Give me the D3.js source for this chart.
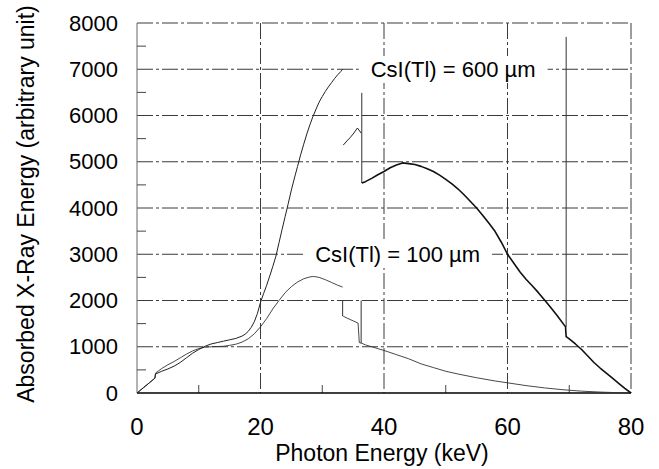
<!DOCTYPE html>
<html>
<head>
<meta charset="utf-8">
<script src="https://cdn.jsdelivr.net/npm/d3@7"></script>
<style>
  body { margin: 0; background: #fff; }
  svg { font-family: "Liberation Sans", Arial, sans-serif; }
</style>
</head>
<body>
<div id="chart"></div>
<script>
// data: [photon energy keV, absorbed energy]
var cs600Low = [
  [0, 0], [1, 110], [2, 220], [2.9, 320], [3, 410], [4, 470], [5, 520], [6, 580],
  [7, 660], [8, 760], [9, 860], [10, 940], [11, 1010], [12, 1060], [13, 1090],
  [14, 1120], [15, 1150], [16, 1180], [17, 1230], [17.5, 1270], [18, 1330],
  [18.5, 1420], [19, 1540], [19.5, 1720], [20, 1960], [20.5, 2150], [21, 2330],
  [21.5, 2530], [22, 2740], [22.5, 2960], [23, 3250], [23.5, 3540], [24, 3820],
  [24.5, 4100], [25, 4390], [25.5, 4650], [26, 4900], [26.5, 5150], [27, 5380],
  [27.5, 5600], [28, 5800], [28.5, 5980], [29, 6140], [29.5, 6290], [30, 6410],
  [30.5, 6520], [31, 6620], [31.5, 6710], [32, 6800], [32.5, 6880], [33, 6950],
  [33.3, 7000]
];
var cs600Mid = [
  [33.4, 5360], [34, 5450], [34.5, 5520], [35, 5600], [35.7, 5730], [36.3, 5620]
];
var cs600High = [
  [36.4, 4540], [37, 4570], [38, 4640], [39, 4720], [40, 4790],
  [41, 4870], [42, 4930], [43, 4975], [44, 4960], [45, 4940], [46, 4900],
  [47, 4850], [48, 4790], [49, 4710], [50, 4620], [51, 4520], [52, 4410],
  [53, 4280], [54, 4140], [55, 4000], [56, 3840], [57, 3670], [58, 3490],
  [59, 3260], [60, 3000], [61, 2810], [62, 2620], [63, 2460], [64, 2320],
  [65, 2170], [66, 2010], [67, 1850], [68, 1680], [69.4, 1430],
  [69.5, 1220], [70, 1170], [71, 1060], [72, 940], [73, 800], [74, 660],
  [75, 540], [76, 430], [77, 320], [78, 210], [79, 100], [80, 0]
];
var cs100Low = [
  [0, 0], [1, 110], [2, 220], [2.9, 320], [3, 430], [4, 530], [5, 610], [6, 680],
  [7, 760], [8, 840], [9, 910], [10, 960], [11, 990], [12, 1000], [13, 1005],
  [14, 1010], [15, 1030], [16, 1055], [17, 1100], [18, 1170], [19, 1280],
  [20, 1430], [21, 1610], [22, 1820], [23, 2000], [24, 2170], [25, 2300],
  [26, 2400], [27, 2470], [28, 2510], [28.6, 2520], [29.5, 2500], [30.5, 2450],
  [31.5, 2390], [32.5, 2330], [33.3, 2290]
];
var cs100High = [
  [33.4, 1660], [34, 1620], [35, 1560], [35.8, 1510], [36, 1090],
  [36.4, 1075], [37, 1040], [38, 1000], [39, 960],
  [40, 920], [42, 830], [44, 740], [46, 630], [48, 550], [50, 470], [52, 410],
  [55, 330], [58, 260], [60, 220], [63, 160], [66, 110], [69, 70], [72, 40],
  [75, 20], [78, 6], [80, 0]
];
// thin vertical edge marks: [keV, from, to]
var edgeLines = [
  [33.3, 1660, 2000], [36.3, 1075, 2000],
  [36.4, 4540, 6490], [69.5, 1430, 7700]
];

var xTicks = [0, 20, 40, 60, 80];
var xMinorTicks = [10, 30, 50, 70];
var yTicks = [0, 1000, 2000, 3000, 4000, 5000, 6000, 7000, 8000];
var yMinorTicks = [500, 1500, 2500, 3500, 4500, 5500, 6500, 7500];

var labels = [
  { text: "CsI(Tl) = 600 µm", x: 51.2, y: 7000 },
  { text: "CsI(Tl) = 100 µm", x: 42.2, y: 3000 }
];

var width = 659;
var height = 469;
var plotLeft = 137, plotRight = 631, plotTop = 23, plotBottom = 393;

var svg = d3.select("#chart")
  .append("svg")
  .attr("width", width)
  .attr("height", height);

var xScale = d3.scaleLinear().domain([0, 80]).range([plotLeft, plotRight]);
var yScale = d3.scaleLinear().domain([0, 8000]).range([plotBottom, plotTop]);

// grid (dash-dot, scanned look)
var grid = svg.append("g").attr("class", "grid")
  .attr("stroke", "#3a3a3a")
  .attr("stroke-width", 1)
  .attr("stroke-dasharray", "16,3,3,3");

grid.selectAll("line.h")
  .data(yTicks.filter(function(d) { return d > 0; }))
  .enter()
  .append("line")
  .attr("class", "h")
  .attr("x1", plotLeft)
  .attr("x2", plotRight)
  .attr("y1", function(d) { return yScale(d); })
  .attr("y2", function(d) { return yScale(d); });

grid.selectAll("line.v")
  .data(xTicks.filter(function(d) { return d > 0; }))
  .enter()
  .append("line")
  .attr("class", "v")
  .attr("y1", plotTop)
  .attr("y2", plotBottom)
  .attr("x1", function(d) { return xScale(d); })
  .attr("x2", function(d) { return xScale(d); });

// left border
svg.append("line")
  .attr("x1", plotLeft).attr("x2", plotLeft)
  .attr("y1", plotTop).attr("y2", plotBottom)
  .attr("stroke", "#666")
  .attr("stroke-width", 1);

// minor ticks
svg.selectAll("line.ymin")
  .data(yMinorTicks)
  .enter()
  .append("line")
  .attr("class", "ymin")
  .attr("x1", plotLeft)
  .attr("x2", plotLeft + 9)
  .attr("y1", function(d) { return yScale(d); })
  .attr("y2", function(d) { return yScale(d); })
  .attr("stroke", "#444");

svg.selectAll("line.xmin")
  .data(xMinorTicks)
  .enter()
  .append("line")
  .attr("class", "xmin")
  .attr("y1", plotBottom)
  .attr("y2", plotBottom - 8)
  .attr("x1", function(d) { return xScale(d); })
  .attr("x2", function(d) { return xScale(d); })
  .attr("stroke", "#444");

// label boxes cut the grid
var labelG = svg.selectAll("g.lab")
  .data(labels)
  .enter()
  .append("g")
  .attr("class", "lab");

labelG.append("text")
  .attr("x", function(d) { return xScale(d.x); })
  .attr("y", function(d) { return yScale(d.y); })
  .attr("dy", "0.35em")
  .attr("text-anchor", "middle")
  .attr("font-size", 22)
  .attr("fill", "#000")
  .text(function(d) { return d.text; })
  .each(function() {
    var b = this.getBBox();
    d3.select(this.parentNode)
      .insert("rect", "text")
      .attr("x", b.x - 12)
      .attr("y", b.y - 1)
      .attr("width", b.width + 24)
      .attr("height", b.height + 2)
      .attr("fill", "#fff");
  });

// bottom axis line
svg.append("line")
  .attr("x1", plotLeft).attr("x2", plotRight)
  .attr("y1", plotBottom).attr("y2", plotBottom)
  .attr("stroke", "#000")
  .attr("stroke-width", 1.5);

// edge marks
svg.selectAll("line.edge")
  .data(edgeLines)
  .enter()
  .append("line")
  .attr("class", "edge")
  .attr("x1", function(d) { return xScale(d[0]); })
  .attr("x2", function(d) { return xScale(d[0]); })
  .attr("y1", function(d) { return yScale(d[1]); })
  .attr("y2", function(d) { return yScale(d[2]); })
  .attr("stroke", "#333")
  .attr("stroke-width", 1);

// curves
var line = d3.line()
  .x(function(d) { return xScale(d[0]); })
  .y(function(d) { return yScale(d[1]); });

var series = [
  { data: cs100Low, w: 0.9, c: "#333" },
  { data: cs100High, w: 0.9, c: "#333" },
  { data: cs600Low, w: 1, c: "#222" },
  { data: cs600Mid, w: 1, c: "#222" },
  { data: cs600High, w: 1.6, c: "#111" }
];

svg.selectAll("path.curve")
  .data(series)
  .enter()
  .append("path")
  .attr("class", "curve")
  .attr("fill", "none")
  .attr("stroke", function(d) { return d.c; })
  .attr("stroke-width", function(d) { return d.w; })
  .attr("stroke-linejoin", "round")
  .attr("d", function(d) { return line(d.data); });

// tick labels
svg.selectAll("text.yt")
  .data(yTicks)
  .enter()
  .append("text")
  .attr("class", "yt")
  .attr("x", 118)
  .attr("y", function(d) { return yScale(d); })
  .attr("dy", "0.35em")
  .attr("text-anchor", "end")
  .attr("font-size", 22)
  .attr("fill", "#000")
  .text(function(d) { return d; });

svg.selectAll("text.xt")
  .data(xTicks)
  .enter()
  .append("text")
  .attr("class", "xt")
  .attr("x", function(d) { return xScale(d); })
  .attr("y", 435)
  .attr("text-anchor", "middle")
  .attr("font-size", 24)
  .attr("fill", "#000")
  .text(function(d) { return d; });

// axis titles
svg.append("text")
  .attr("x", (plotLeft + plotRight) / 2 - 2)
  .attr("y", 461)
  .attr("text-anchor", "middle")
  .attr("font-size", 23)
  .attr("fill", "#000")
  .text("Photon Energy (keV)");

svg.append("text")
  .attr("transform", "translate(34," + 204 + ")rotate(-90)")
  .attr("text-anchor", "middle")
  .attr("font-size", 23)
  .attr("fill", "#000")
  .text("Absorbed X-Ray Energy (arbitrary unit)");
</script>
</body>
</html>
